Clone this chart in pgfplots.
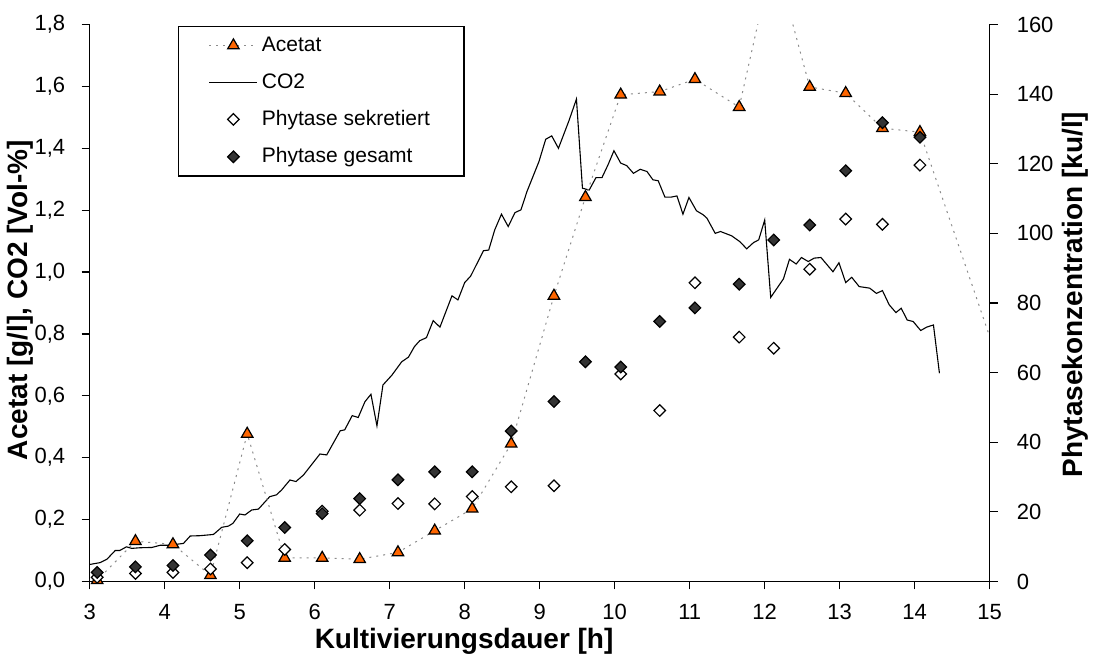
\documentclass[border=0pt]{standalone}
\usepackage{fontspec}
\setmainfont{Liberation Sans}
\usepackage{pgfplots}
\pgfplotsset{compat=1.18}
\definecolor{acorange}{HTML}{FF6600}
\definecolor{dgray}{HTML}{333333}
\definecolor{lgray}{HTML}{8C8C8C}

\pgfplotstableread{
x y
2.60 0.010
3.10 0.004
3.61 0.130
4.11 0.120
4.61 0.020
5.10 0.477
5.60 0.076
6.10 0.076
6.60 0.072
7.11 0.094
7.60 0.164
8.10 0.235
8.62 0.445
9.19 0.923
9.61 1.242
10.08 1.573
10.60 1.583
11.07 1.623
11.66 1.533
12.12 2.030
12.60 1.598
13.08 1.578
13.57 1.465
14.07 1.452
15.10 0.720
}\acetat

\pgfplotstableread{
x y
3.00 0.055
3.14 0.061
3.23 0.072
3.34 0.100
3.40 0.100
3.49 0.112
3.56 0.107
3.67 0.109
3.83 0.110
3.94 0.117
4.05 0.117
4.25 0.123
4.34 0.147
4.47 0.148
4.65 0.152
4.76 0.175
4.85 0.179
4.91 0.188
5.00 0.218
5.07 0.215
5.16 0.231
5.25 0.234
5.40 0.274
5.49 0.280
5.56 0.296
5.67 0.328
5.75 0.323
5.85 0.344
6.07 0.412
6.16 0.409
6.34 0.487
6.40 0.490
6.50 0.536
6.58 0.530
6.67 0.581
6.75 0.605
6.83 0.503
6.91 0.635
7.03 0.667
7.16 0.710
7.25 0.725
7.33 0.759
7.40 0.778
7.49 0.788
7.58 0.843
7.67 0.822
7.83 0.923
7.91 0.910
8.00 0.966
8.08 0.987
8.25 1.069
8.32 1.071
8.40 1.136
8.49 1.187
8.58 1.147
8.67 1.192
8.75 1.201
8.83 1.260
8.99 1.357
9.08 1.429
9.16 1.440
9.25 1.400
9.39 1.489
9.49 1.559
9.57 1.271
9.66 1.265
9.75 1.305
9.83 1.305
9.91 1.346
9.99 1.392
10.08 1.352
10.16 1.344
10.25 1.319
10.34 1.332
10.43 1.325
10.51 1.298
10.58 1.295
10.67 1.242
10.75 1.242
10.83 1.246
10.91 1.187
10.99 1.241
11.09 1.198
11.18 1.185
11.23 1.174
11.34 1.125
11.41 1.131
11.56 1.117
11.67 1.098
11.76 1.075
11.85 1.095
11.92 1.104
12.00 1.168
12.08 0.918
12.25 0.978
12.33 1.041
12.42 1.026
12.49 1.047
12.58 1.034
12.66 1.045
12.75 1.047
12.91 1.001
12.99 1.030
13.08 0.966
13.16 0.983
13.26 0.953
13.40 0.948
13.49 0.931
13.57 0.940
13.66 0.894
13.75 0.869
13.82 0.883
13.90 0.845
13.98 0.840
14.08 0.811
14.16 0.822
14.25 0.829
14.33 0.673
}\cotwo

\pgfplotstableread{
x y
3.10 1.2
3.61 2.3
4.11 2.6
4.61 3.6
5.10 5.4
5.60 9.2
6.10 20.2
6.60 20.5
7.11 22.4
7.60 22.3
8.10 24.4
8.62 27.2
9.19 27.5
10.08 59.6
10.60 49.1
11.07 85.8
11.66 70.2
12.12 67.0
12.60 89.7
13.08 104.1
13.57 102.6
14.07 119.6
}\sekret

\pgfplotstableread{
x y
3.10 2.6
3.61 4.2
4.11 4.6
4.61 7.6
5.10 11.7
5.60 15.5
6.10 19.5
6.60 23.8
7.11 29.2
7.60 31.5
8.10 31.5
8.62 43.2
9.19 51.7
9.61 63.1
10.08 61.6
10.60 74.7
11.07 78.6
11.66 85.4
12.12 98.1
12.60 102.4
13.08 118.0
13.57 131.8
14.07 127.6
}\gesamt

\begin{document}
\begin{tikzpicture}
\pgfplotsset{
  every axis/.append style={
    scale only axis, width=450pt, height=278.5pt,
    xmin=3, xmax=15,
    tick label style={font=\fontsize{11}{13}\selectfont},
    /pgf/number format/assume math mode=true,
    axis line style={line width=0.6pt,-},
    tick style={line width=0.6pt, black},
    tick align=outside,
    major tick length=4pt,
  },
  acstyle/.style={lgray, line width=0.5pt, dash pattern=on 1pt off 2.5pt,
     mark=triangle*, mark size=3.3pt,
     mark options={solid, fill=acorange, draw=black, line width=0.6pt}},
  co2style/.style={black, line width=0.55pt, no markers},
  sekstyle/.style={only marks, mark=square*, mark size=2.05pt,
     mark options={rotate=45, fill=white, draw=black, line width=0.6pt}},
  gesstyle/.style={only marks, mark=square*, mark size=2.05pt,
     mark options={rotate=45, fill=dgray, draw=black, line width=0.6pt}},
}
\begin{axis}[
  name=ax1,
  axis x line*=bottom, axis y line*=left,
  ymin=0, ymax=1.8,
  xtick={3,4,...,15},
  ytick={0,0.2,0.4,0.6,0.8,1.0,1.2,1.4,1.6,1.8},
  yticklabel style={xshift=-4.7pt, /pgf/number format/.cd, fixed, fixed zerofill, precision=1, use comma},
  xticklabel style={yshift=-4pt},
  xlabel={Kultivierungsdauer [h]},
  ylabel={Acetat [g/l], CO2 [Vol-\%]},
  every axis x label/.style={at={(axis description cs:0.416,0)}, anchor=center, yshift=-30pt, inner sep=1pt,
     font=\fontsize{14}{16}\selectfont\bfseries},
  every axis y label/.style={at={(axis description cs:0,0.505)}, anchor=center, rotate=90, yshift=34.5pt, inner sep=1pt,
     font=\fontsize{14}{16}\selectfont\bfseries},
]
\addplot[co2style] table {\cotwo};
\addplot[acstyle] table {\acetat};
\end{axis}
\begin{axis}[
  axis y line*=right, axis x line=none,
  ymin=0, ymax=160,
  ytick={0,20,...,160},
  yticklabel style={xshift=6pt},
  ylabel={Phytasekonzentration [ku/l]},
  every axis y label/.style={at={(axis description cs:1,0.515)}, anchor=center, rotate=90, yshift=-42.65pt, inner sep=1pt,
     font=\fontsize{14}{16}\selectfont\bfseries},
  legend style={at={(0.0984,0.997)}, anchor=north west, draw=black, line width=0.6pt,
     fill=white, font=\fontsize{10.5}{12}\selectfont, row sep=5.6pt, inner xsep=15pt, inner ysep=3pt},
  legend cell align=left,
  legend image code/.code={\draw[mark repeat=2,mark phase=2,#1] plot coordinates {(0pt,0pt) (12pt,0pt) (24pt,0pt)};},
]
\addlegendimage{acstyle}
\addlegendentry{Acetat}
\addlegendimage{co2style}
\addlegendentry{CO2}
\addplot[sekstyle] table {\sekret};
\addlegendentry{Phytase sekretiert}
\addplot[gesstyle] table {\gesamt};
\addlegendentry{Phytase gesamt}
\end{axis}
\pgfresetboundingbox
\path ([shift={(-44.85pt,-39.75pt)}]ax1.south west) rectangle ([shift={(52.15pt,12.25pt)}]ax1.north east);
\end{tikzpicture}
\end{document}
